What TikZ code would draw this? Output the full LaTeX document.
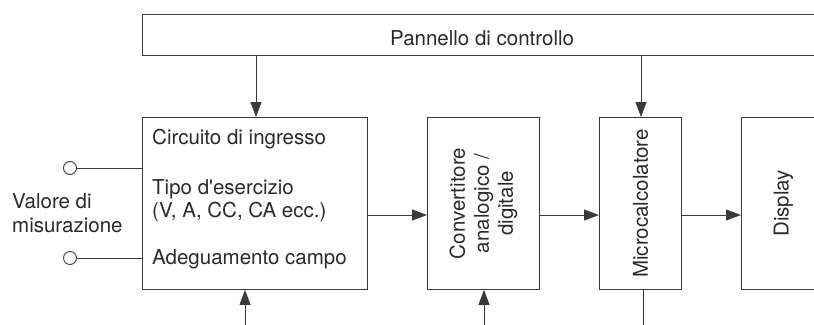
\documentclass[tikz,border=0pt]{standalone}
\usepackage{fontspec}
\setmainfont{TeX Gyre Heros}
\usepackage{xcolor}
\usetikzlibrary{arrows.meta, positioning}

\definecolor{linegray}{HTML}{3A3A3A}
\definecolor{textgray}{HTML}{2A2A2A}

\tikzset{
    block/.style={draw=linegray, line width=0.9pt, inner sep=0pt, anchor=north west},
    label/.style={text=textgray, inner sep=0pt, anchor=base west},
    vlabel/.style={text=textgray, inner sep=0pt, rotate=90, align=center},
    term/.style={draw=linegray, line width=0.9pt, circle, minimum size=13pt, inner sep=0pt},
    arr/.style={draw=linegray, line width=0.9pt, -{Triangle[length=15pt, width=11pt]}},
    wire/.style={draw=linegray, line width=0.9pt}
}

\begin{document}
\begin{tikzpicture}[x=1pt, y=-1pt, font=\fontsize{20.5}{24}\selectfont]
    \useasboundingbox (0,0) rectangle (814,324);
    \clip (0,0) rectangle (814,324);

    % Control panel
    \node[block, minimum width=720pt, minimum height=41pt] (panel) at (142,14) {};
    \node[label] (paneltxt) at (390,45) {Pannello di controllo};

    % Blocks
    \node[block, minimum width=225pt, minimum height=172pt] (inbox) at (142,117) {};
    \node[block, minimum width=112pt, minimum height=172pt] (adc) at (427,117) {};
    \node[block, minimum width=82pt, minimum height=172pt] (mcu) at (599,117) {};
    \node[block, minimum width=84pt, minimum height=172pt] (disp) at (741,117) {};

    % Texts in the input block
    \node[label] (intitle) at (152,144) {Circuito di ingresso};
    \node[label] (intype) at (152,194) {Tipo d\textquotesingle esercizio};
    \node[label] (inrange) at (152,217) {(V, A, CC, CA ecc.)};
    \node[label] (inadapt) at (152,264) {Adeguamento campo};

    % Rotated texts
    \node[vlabel] (adctxt) at (adc.center) {Convertitore\\analogico /\\digitale};
    \node[vlabel] (mcutxt) at (mcu.center) {Microcalcolatore};
    \node[vlabel] (disptxt) at (disp.center) {Display};

    % Input terminals
    \node[term] (termA) at (70,168) {};
    \node[term] (termB) at (70,258) {};
    \draw[wire] (termA) -- (termA -| inbox.west);
    \draw[wire] (termB) -- (termB -| inbox.west);
    \node[label] (meas1) at (12,208) {Valore di};
    \node[label] (meas2) at (12,232) {misurazione};

    % Signal path
    \coordinate (lvl) at (0,215);
    \draw[arr] (inbox.east |- lvl) -- (adc.west |- lvl);
    \draw[arr] (adc.east |- lvl) -- (mcu.west |- lvl);
    \draw[arr] (mcu.east |- lvl) -- (disp.west |- lvl);

    % From the control panel
    \coordinate (ctlA) at (256,0);
    \coordinate (ctlB) at (641,0);
    \draw[arr] (ctlA |- panel.south) -- (ctlA |- inbox.north);
    \draw[arr] (ctlB |- panel.south) -- (ctlB |- mcu.north);

    % Lower connections
    \coordinate (botA) at (245,330);
    \coordinate (botB) at (484,330);
    \coordinate (botC) at (643,330);
    \draw[arr] (botA) -- (botA |- inbox.south);
    \draw[arr] (botB) -- (botB |- adc.south);
    \draw[wire] (botC |- mcu.south) -- (botC);
\end{tikzpicture}
\end{document}
